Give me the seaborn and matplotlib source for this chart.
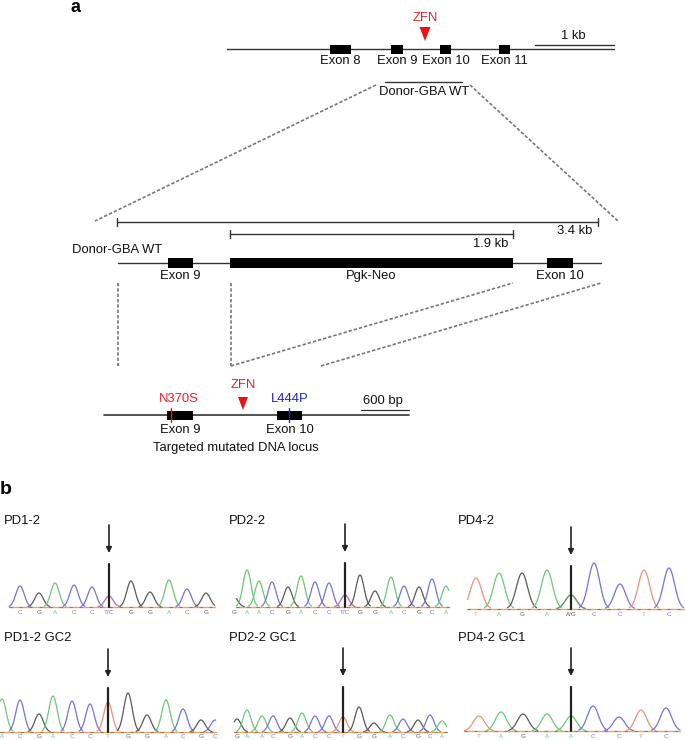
import numpy as np
import pandas as pd
import matplotlib
matplotlib.use("Agg")
import matplotlib.pyplot as plt
import seaborn as sns

sns.set_style("white")
plt.rcParams["font.family"] = ["Liberation Sans", "DejaVu Sans"]

# gene maps, read in pixels off the picture
top_exons = [("Exon 8", 330, 351), ("Exon 9", 391, 403), ("Exon 10", 440, 451), ("Exon 11", 499, 510)]
mid_exons = [("Exon 9", 168, 193), ("Pgk-Neo", 230, 513), ("Exon 10", 547, 573)]
low_exons = [("Exon 9", 167, 193), ("Exon 10", 277, 302)]
dashes = [
    (376, 85, 95, 221), (470, 85, 618, 221),
    (118, 283, 118, 366), (231, 283, 231, 366),
    (231, 366, 513, 283), (321, 366, 601, 283),
]

# sequencing traces: base called, peak position, peak height
pd1_bases = list("CGACCCGGACG")
pd1_x = [20, 39, 55, 74, 92, 109, 131, 150, 169, 187, 206]
pd1_h = [21, 14, 24, 22, 20, 11, 26, 15, 27, 18, 14]
pd2_bases = list("GAACGACCCGGACGCA")
pd2_x = [234, 247, 259, 272, 288, 301, 315, 329, 345, 360, 375, 391, 404, 419, 432, 446]
pd2_h = [10, 37, 26, 25, 20, 31, 25, 24, 12, 32, 16, 30, 21, 20, 28, 21]
pd4_bases = list("TAGAGCCTC")
pd4_x = [476, 499, 522, 547, 571, 594, 620, 644, 669]
pd4_h = [31, 36, 36, 39, 14, 46, 25, 39, 41]
gc1_bases = list("ACGACCTGGACGC")
gc1_x = [2, 20, 39, 53, 72, 90, 108, 128, 147, 166, 183, 201, 215]
gc1_h = [33, 32, 18, 36, 31, 28, 30, 39, 17, 32, 23, 12, 12]
gc2_bases = list("GAACGACCTGGACGCA")
gc2_x = [237, 247, 262, 273, 290, 302, 315, 329, 343, 359, 374, 390, 403, 418, 430, 442]
gc2_h = [13, 22, 16, 16, 14, 19, 16, 16, 15, 25, 9, 17, 13, 12, 17, 11]
gc4_bases = list("TAGAACCTC")
gc4_x = [479, 501, 523, 547, 571, 593, 619, 641, 666]
gc4_h = [15, 19, 17, 17, 15, 25, 14, 21, 23]

base_colors = {"A": "#6cc878", "C": "#7474dc", "G": "#5a5a5a", "T": "#ef9078"}

panels = [
    ("PD1-2", 4, 521, 109, 564, pd1_bases, pd1_x, pd1_h, 607, 4.2, 612, "T/C", 5, 9, 215),
    ("PD2-2", 229, 521, 345, 563, pd2_bases, pd2_x, pd2_h, 607, 4.0, 612, "T/C", 8, 236, 449),
    ("PD4-2", 458, 521, 571, 566, pd4_bases, pd4_x, pd4_h, 609, 5.6, 615, "A/G", 4, 467, 685),
    ("PD1-2 GC2", 4, 638, 108, 688, gc1_bases, gc1_x, gc1_h, 732, 4.2, 737, None, None, 0, 216),
    ("PD2-2 GC1", 229, 638, 343, 687, gc2_bases, gc2_x, gc2_h, 732, 4.0, 737, None, None, 234, 447),
    ("PD4-2 GC1", 458, 638, 571, 687, gc4_bases, gc4_x, gc4_h, 731, 5.6, 737, None, None, 464, 680),
]

fig = plt.figure(figsize=(6.85, 7.40), dpi=100)
ax = fig.add_axes([0, 0, 1, 1])

FS = 9.4


def label(x, y, s, color="#111111", ha="center", size=FS, weight="normal"):
    ax.text(x, y, s, color=color, ha=ha, va="center", fontsize=size, fontweight=weight)


def gene_line(x0, x1, y, lw=1.0):
    sns.lineplot(x=[x0, x1], y=[y, y], color="#333333", linewidth=lw, ax=ax)


def exons(items, y, half, text_y):
    for name, x0, x1 in items:
        ax.barh(y, x1 - x0, left=x0, height=2 * half, color="black", linewidth=0, zorder=3)
        label((x0 + x1) / 2, text_y, name)


def caps_bar(x0, x1, y):
    ax.plot([x0, x1], [y, y], color="#333333", lw=1.0)
    ax.plot([x0, x0], [y - 4, y + 4], color="#333333", lw=1.0)
    ax.plot([x1, x1], [y - 4, y + 4], color="#333333", lw=1.0)


def zfn(x, text_y, y0, y1, half):
    label(x, text_y, "ZFN", color="#ee1c25")
    ax.fill([x - half, x + half, x], [y0, y0, y1], color="#ee1111", lw=0)


def trace(bases, xs, hs, base_y, sigma, text_y, mixed, mixed_i, x_start, x_end):
    for i, (b, x0, h) in enumerate(zip(bases, xs, hs)):
        grid = np.linspace(x0 - 2.6 * sigma, x0 + 2.6 * sigma, 50)
        curve = base_y - h * np.exp(-((grid - x0) ** 2) / (2 * sigma ** 2))
        keep = (grid >= x_start) & (grid <= x_end)
        df = pd.DataFrame({"x": grid[keep], "y": curve[keep]})
        sns.lineplot(data=df, x="x", y="y", color=base_colors[b], linewidth=0.9, ax=ax)
        txt = b
        if i == mixed_i:
            other = base_colors[mixed[0]]
            sns.lineplot(data=df, x="x", y="y", color=other, linewidth=0.7, alpha=0.7, ax=ax)
            txt = mixed
        label(x0, text_y, txt, color=base_colors[b], size=4.5)
    # base line under the peaks
    ax.plot([x_start, x_end], [base_y, base_y], color="#e59a5a", lw=1.0, alpha=0.9)
    ax.plot([x_start, x_end], [base_y + 0.3, base_y + 0.3], color="#444444",
            lw=0.8, alpha=0.45, dashes=(3, 6))


label(76, 7, "a", color="black", size=13, weight="bold")
label(6, 490, "b", color="black", size=14, weight="bold")

# top map
gene_line(227, 614, 49)
exons(top_exons, 49.5, 4.5, 61)
zfn(425, 18, 27, 41, 5.5)
gene_line(535, 614, 45, 1.0)
label(573, 36, "1 kb")
gene_line(385, 462, 82, 1.0)
label(424, 92, "Donor-GBA WT")

# donor map
caps_bar(117, 598, 222)
label(575, 231, "3.4 kb")
caps_bar(230, 513, 234)
label(491, 244, "1.9 kb")
label(72, 250, "Donor-GBA WT", ha="left")
gene_line(118, 601, 263)
exons(mid_exons, 262.5, 5, 276)

for x0, y0, x1, y1 in dashes:
    ax.plot([x0, x1], [y0, y1], color="#777777", lw=1.2, dashes=(2, 1.2))

# targeted locus
gene_line(104, 409, 415, 1.2)
exons(low_exons, 415, 4.5, 430)
ax.plot([171, 171], [408, 422], color="#ee1111", lw=1.0, zorder=4)
ax.plot([289, 289], [408, 422], color="#2222cc", lw=1.0, zorder=4)
label(179, 399, "N370S", color="#ee1c25")
label(290, 399, "L444P", color="#2222cc")
zfn(243, 385, 397, 410, 5)
label(383, 401, "600 bp")
gene_line(361, 409, 410, 0.9)
label(236, 448, "Targeted mutated DNA locus")

# chromatograms
for name, tx, ty, ax_x, bar_top, bases, xs, hs, base_y, sigma, text_y, mixed, mixed_i, x0, x1 in panels:
    label(tx, ty, name, ha="left")
    trace(bases, xs, hs, base_y, sigma, text_y, mixed, mixed_i, x0, x1)
    ax.plot([ax_x, ax_x], [bar_top, base_y], color="#222222", lw=1.6, zorder=5)
    ax.annotate("", xy=(ax_x, bar_top - 11), xytext=(ax_x, bar_top - 39),
                arrowprops=dict(arrowstyle="-|>", color="#222222", lw=1.2, mutation_scale=8,
                                shrinkA=0, shrinkB=0))

ax.set_xlim(0, 685)
ax.set_ylim(740, 0)
ax.axis("off")
fig.savefig("out.png", dpi=100)
